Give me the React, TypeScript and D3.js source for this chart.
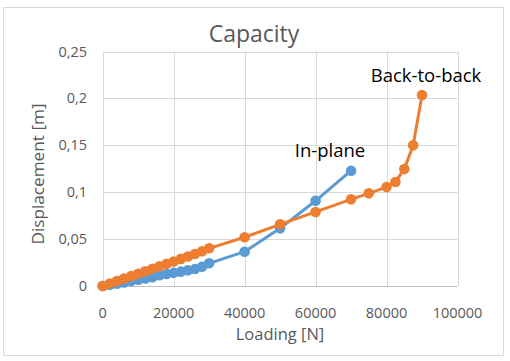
import React from "react";
import * as d3 from "d3";

const xTicks = [0, 20000, 40000, 60000, 80000, 100000];
const yTicks = [0, 0.05, 0.1, 0.15, 0.2, 0.25];

const loadInPlane = [0, 2000, 4000, 6000, 8000, 10000, 12000, 14000, 16000, 18000, 20000, 22000, 24000, 26000, 28000, 30000, 40000, 50000, 60000, 70000];
const dispInPlane = [0, 0.0012, 0.0025, 0.0038, 0.0052, 0.0066, 0.008, 0.0094, 0.0115, 0.0128, 0.014, 0.0153, 0.0167, 0.0182, 0.0205, 0.0242, 0.0366, 0.0615, 0.0909, 0.123];

const loadB2B = [0, 2000, 4000, 6000, 8000, 10000, 12000, 14000, 16000, 18000, 20000, 22000, 24000, 26000, 28000, 30000, 40000, 50000, 60000, 70000, 75000, 80000, 82500, 85000, 87500, 90000];
const dispB2B = [0, 0.0027, 0.0053, 0.0079, 0.0105, 0.0131, 0.0158, 0.0184, 0.021, 0.0236, 0.0262, 0.0289, 0.0315, 0.0342, 0.037, 0.0402, 0.052, 0.0658, 0.079, 0.0924, 0.0988, 0.1055, 0.111, 0.1247, 0.15, 0.2036];

const seriesNames = ["In-plane", "Back-to-back"];
const colors = ["#5B9BD5", "#ED7D31"];

const FONT = "'Open Sans', 'Noto Sans', sans-serif";

export default function App() {
  const x = d3.scaleLinear().domain([0, 100000]).range([102.7, 457.5]);
  const y = d3.scaleLinear().domain([0, 0.25]).range([286, 51.6]);
  const fmtY = (v: number) => (v === 0 ? "0" : String(+v.toFixed(2)).replace(".", ","));

  const series = [
    { name: seriesNames[0], color: colors[0], pts: loadInPlane.map((l, i) => [l, dispInPlane[i]] as [number, number]) },
    { name: seriesNames[1], color: colors[1], pts: loadB2B.map((l, i) => [l, dispB2B[i]] as [number, number]) },
  ];
  const line = d3.line<[number, number]>().x((d) => x(d[0])).y((d) => y(d[1]));

  return (
    <svg width={510} height={361} style={{ position: "absolute", left: 0, top: 0 }} fontFamily={FONT}>
      <rect x={0} y={0} width={510} height={361} fill="#fff" />
      <rect x={3.5} y={7.5} width={500} height={348} fill="#fff" stroke="#d9d9d9" strokeWidth={1} />
      <text x={254} y={42} textAnchor="middle" fontSize={23} fill="#595959">Capacity</text>
      {yTicks.map((t) => (
        <g key={"y" + t}>
          <line x1={x(0)} x2={x(100000)} y1={Math.round(y(t)) + 0.5} y2={Math.round(y(t)) + 0.5} stroke={t === 0 ? "#bfbfbf" : "#d9d9d9"} />
          <text x={87} y={y(t) + 5} textAnchor="end" fontSize={14.5} fill="#595959">{fmtY(t)}</text>
        </g>
      ))}
      {xTicks.map((t) => (
        <g key={"x" + t}>
          <line x1={Math.round(x(t)) + 0.5} x2={Math.round(x(t)) + 0.5} y1={y(0.25)} y2={y(0)} stroke="#d9d9d9" />
          <text x={x(t)} y={318} textAnchor="middle" fontSize={14.5} fill="#595959">{t}</text>
        </g>
      ))}
      <text x={280} y={340} textAnchor="middle" fontSize={16.5} fill="#595959">Loading [N]</text>
      <text transform={`translate(44,174) rotate(-90)`} textAnchor="middle" fontSize={17.2} fill="#595959">Displacement [m]</text>
      {series.map((s) => (
        <g key={s.name}>
          <path d={line(s.pts) || ""} fill="none" stroke={s.color} strokeWidth={3} strokeLinejoin="round" />
          {s.pts.map((p, i) => (
            <circle key={i} cx={x(p[0])} cy={y(p[1])} r={5.3} fill={s.color} />
          ))}
        </g>
      ))}
      <text x={330} y={157} textAnchor="middle" fontSize={18.5} fill="#000">{seriesNames[0]}</text>
      <text x={426} y={82} textAnchor="middle" fontSize={18.5} fill="#000">{seriesNames[1]}</text>
    </svg>
  );
}
